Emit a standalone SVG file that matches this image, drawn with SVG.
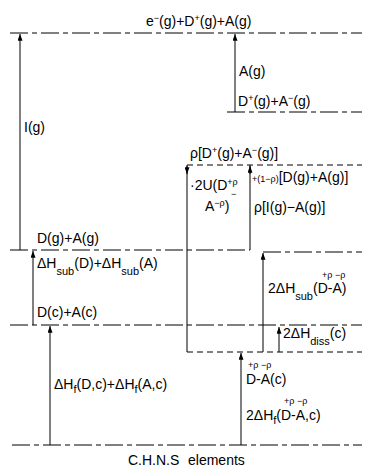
<svg xmlns="http://www.w3.org/2000/svg" width="368" height="469" viewBox="0 0 368 469">
<defs>
<marker id="ah" viewBox="0 0 8 6" refX="8" refY="3" markerWidth="7" markerHeight="5" orient="auto" markerUnits="userSpaceOnUse">
<path d="M0,0 L8,3 L0,6 z" fill="#000"/>
</marker>
<style>
.t{font-family:"Liberation Sans",Arial,sans-serif;font-size:14px;fill:#000}
.s{font-size:9px}
.m{font-size:11px}
.l{stroke:#000;stroke-width:1;fill:none}
.d{stroke:#000;stroke-width:1;fill:none;stroke-dasharray:18 4 5 4}
.b{stroke:#000;stroke-width:1;fill:none;stroke-dasharray:6 4}
.a{stroke:#000;stroke-width:1;fill:none;marker-end:url(#ah)}
</style>
</defs>
<rect width="368" height="469" fill="#fff"/>
<g id="level-ions-gas">
<line class="d" x1="10" y1="33" x2="362" y2="33"/>
<text class="t" x="146" y="26">e<tspan class="s" dy="-5">−</tspan><tspan dy="5">(g)+D</tspan><tspan class="s" dy="-5">+</tspan><tspan dy="5">(g)+A(g)</tspan></text>
</g>
<g id="level-ion-pair-gas">
<line class="d" x1="227" y1="112" x2="362" y2="112"/>
<text class="t" x="238" y="106">D<tspan class="s" dy="-5">+</tspan><tspan dy="5">(g)+A</tspan><tspan class="s" dy="-5">−</tspan><tspan dy="5">(g)</tspan></text>
</g>
<g id="level-mixed">
<line class="b" x1="187" y1="165" x2="362" y2="165"/>
<text class="t" x="190" y="158">ρ[D<tspan class="s" dy="-5">+</tspan><tspan dy="5">(g)+A</tspan><tspan class="s" dy="-5">−</tspan><tspan dy="5">(g)]</tspan></text>
<text class="t" x="252" y="182"><tspan class="s">+(1−ρ)</tspan>[D(g)+A(g)]</text>
</g>
<g id="level-neutral-gas">
<line class="d" x1="10" y1="250" x2="250" y2="250"/>
<line class="d" x1="263" y1="252" x2="362" y2="252"/>
<text class="t" x="37" y="243">D(g)+A(g)</text>
</g>
<g id="level-neutral-crystal">
<line class="d" x1="10" y1="325" x2="362" y2="325"/>
<text class="t" x="37" y="317">D(c)+A(c)</text>
</g>
<g id="level-ct-crystal">
<line class="b" x1="187" y1="352" x2="362" y2="352"/>
<text class="t" x="246" y="384">D-A(c)</text>
<text class="t s" x="248" y="368">+ρ −ρ</text>
</g>
<g id="level-elements">
<line class="d" x1="12" y1="445" x2="362" y2="445"/>
<text class="t" y="465"><tspan x="128">C.H.N.S</tspan><tspan x="188">elements</tspan></text>
</g>
<g id="connectors">
<line class="a" x1="20" y1="250" x2="20" y2="34"/>
<line class="a" x1="235" y1="112" x2="235" y2="34"/>
<line class="l" x1="187" y1="165" x2="187" y2="352"/>
<line class="a" x1="187" y1="166" x2="187" y2="174"/>
<line class="l" x1="250" y1="165" x2="250" y2="250"/>
<line class="a" x1="250" y1="174" x2="250" y2="166"/>
<line class="a" x1="33" y1="325" x2="33" y2="251"/>
<line class="a" x1="50" y1="445" x2="50" y2="326"/>
<line class="a" x1="263" y1="352" x2="263" y2="253"/>
<line class="a" x1="279" y1="352" x2="279" y2="327"/>
<line class="a" x1="241" y1="445" x2="241" y2="353"/>
</g>
<g id="labels">
<text class="t" x="24" y="132">I(g)</text>
<text class="t" x="239" y="76">A(g)</text>
<text class="t" x="190" y="190">·2U(D<tspan class="s" dy="-5">+ρ</tspan></text>
<text class="t s" x="231" y="197">−</text>
<text class="t" x="205" y="211">A<tspan class="s" dy="-5">−ρ</tspan><tspan dy="5">)</tspan></text>
<text class="t" x="254" y="212">ρ[I(g)−A(g)]</text>
<text class="t" x="37" y="268">ΔH<tspan class="m" dy="7">sub</tspan><tspan dy="-7">(D)+ΔH</tspan><tspan class="m" dy="7">sub</tspan><tspan dy="-7">(A)</tspan></text>
<text class="t" x="268" y="293">2ΔH<tspan class="m" dy="7">sub</tspan><tspan dy="-7">(D-A)</tspan></text>
<text class="t s" x="322" y="278">+ρ −ρ</text>
<text class="t" x="283" y="338">2ΔH<tspan class="m" dy="7">diss</tspan><tspan dy="-7">(c)</tspan></text>
<text class="t" x="54" y="389">ΔH<tspan class="m" dy="4">f</tspan><tspan dy="-4">(D,c)+ΔH</tspan><tspan class="m" dy="4">f</tspan><tspan dy="-4">(A,c)</tspan></text>
<text class="t" x="246" y="420">2ΔH<tspan class="m" dy="4">f</tspan><tspan dy="-4">(D-A,c)</tspan></text>
<text class="t s" x="284" y="404">+ρ −ρ</text>
</g>
</svg>
